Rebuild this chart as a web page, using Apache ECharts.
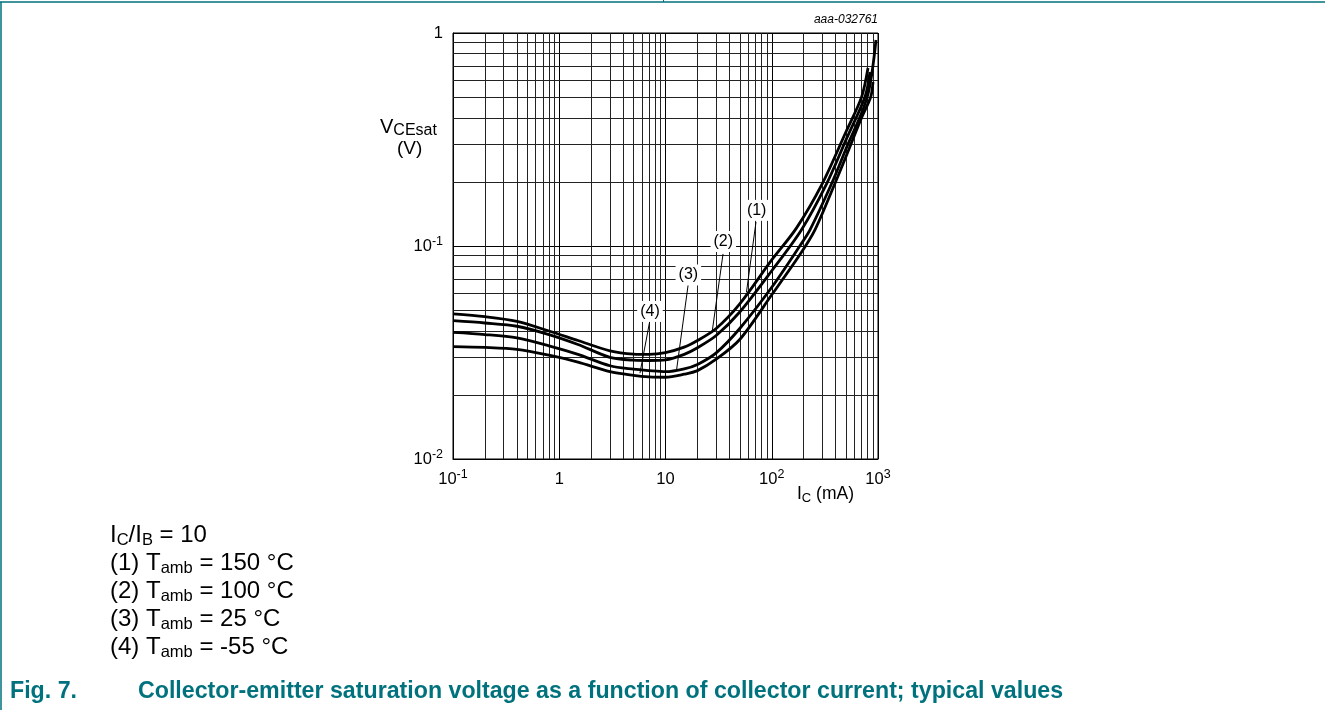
<!DOCTYPE html>
<html><head><meta charset="utf-8">
<script src="https://cdn.jsdelivr.net/npm/echarts@6/dist/echarts.min.js"></script>
<style>html,body{margin:0;padding:0;background:#fff;}#c{width:1325px;height:710px;}</style>
</head><body><div id="c"></div>
<script>
const FONT = '"Liberation Sans", Arial, Helvetica, sans-serif';
const TEAL = '#00727d';

// Curve data: collector current IC (mA) and VCEsat (V)
const IC1 = [0.1, 0.2, 0.4, 0.8, 1.5, 3, 5, 7, 10, 15, 20, 30, 50, 100, 170, 300, 500, 700, 805];
const V1  = [0.048, 0.0466, 0.0443, 0.0399, 0.036, 0.0322, 0.0311, 0.031, 0.0316, 0.0335, 0.036, 0.041, 0.0535, 0.086, 0.121, 0.197, 0.344, 0.50, 0.685];
const IC2 = [0.1, 0.2, 0.4, 0.8, 1.5, 3, 5, 7, 10, 15, 20, 30, 50, 100, 190, 330, 500, 755, 840];
const V2  = [0.0446, 0.0435, 0.042, 0.0384, 0.0345, 0.030, 0.0291, 0.029, 0.0292, 0.031, 0.0333, 0.038, 0.049, 0.0765, 0.119, 0.197, 0.315, 0.502, 0.656];
const IC3 = [0.1, 0.2, 0.4, 0.8, 1.5, 3, 5, 7, 10, 15, 20, 30, 50, 100, 185, 229, 367, 500, 793, 957];
const V3  = [0.0393, 0.0384, 0.037, 0.034, 0.031, 0.0274, 0.0264, 0.026, 0.0257, 0.0265, 0.0278, 0.0315, 0.041, 0.064, 0.1006, 0.119, 0.197, 0.286, 0.502, 0.927];
const IC4 = [0.1, 0.2, 0.4, 0.8, 1.5, 3, 5, 7, 10, 15, 20, 30, 50, 100, 185, 255, 394, 500, 700, 855, 897];
const V4  = [0.0337, 0.0334, 0.0327, 0.0307, 0.0285, 0.0257, 0.0247, 0.0243, 0.0242, 0.025, 0.026, 0.0294, 0.0364, 0.059, 0.0914, 0.119, 0.197, 0.263, 0.40, 0.502, 0.589];

// Curve annotation labels and leader lines (data coordinates)
const curveLabels = ['(1)', '(2)', '(3)', '(4)'];
const labelIC = [72.1, 35.0, 16.4, 7.14];
const labelV  = [0.147, 0.105, 0.0731, 0.0493];
const leadFromIC = [71.1, 34.8, 16.4, 7.14];
const leadFromV  = [0.1297, 0.0918, 0.0667, 0.0449];
const leadToIC   = [57.8, 27.4, 12.7, 5.75];
const leadToV    = [0.0607, 0.0391, 0.0261, 0.0253];

// Axis tick positions
const xMin = 0.1, xMax = 1000, yMin = 0.01, yMax = 1;
const xDecades = [0.1, 1, 10, 100];
const yDecades = [0.01, 0.1];
const minorMult = [2, 3, 4, 5, 6, 7, 8, 9];

const legendLines = [
  '{m|I}{s|C}{m|/I}{s|B}{m| = 10}',
  '{m|(1) T}{s|amb}{m| = 150 °C}',
  '{m|(2) T}{s|amb}{m| = 100 °C}',
  '{m|(3) T}{s|amb}{m| = 25 °C}',
  '{m|(4) T}{s|amb}{m| = -55 °C}'
];

function pairs(xs, ys) { return xs.map((x, i) => [x, ys[i]]); }

const minorX = [];
xDecades.forEach(d => minorMult.forEach(m => minorX.push({ xAxis: +(d * m).toPrecision(3) })));
const minorY = [];
yDecades.forEach(d => minorMult.forEach(m => minorY.push({ yAxis: +(d * m).toPrecision(3) })));

function powLabel(v) {
  const e = Math.round(Math.log10(v));
  if (e === 0) return '{b|1}';
  if (e === 1) return '{b|10}';
  return '{b|10}{s|' + e + '}';
}
const tickRich = {
  b: { fontSize: 16.5, lineHeight: 22, fontFamily: FONT, fontWeight: 'normal', color: '#000' },
  s: { fontSize: 12.5, lineHeight: 10, verticalAlign: 'top', fontFamily: FONT, fontWeight: 'normal', color: '#000' }
};
function tok(size, lh, extra) {
  return Object.assign({ fontSize: size, lineHeight: lh, fontFamily: FONT, fontWeight: 'normal', color: '#000' }, extra || {});
}

const curves = [pairs(IC1, V1), pairs(IC2, V2), pairs(IC3, V3), pairs(IC4, V4)];

const series = [];
series.push({
  type: 'line', data: [[1, 0.1]], showSymbol: false, silent: true,
  lineStyle: { width: 0, opacity: 0 }, z: 1,
  markLine: {
    silent: true, symbol: ['none', 'none'], animation: false,
    label: { show: false },
    lineStyle: { color: '#222', width: 1, type: 'solid' },
    emphasis: { disabled: true },
    data: minorX.concat(minorY)
  }
});
curves.forEach((c) => {
  series.push({
    type: 'line', data: c, smooth: 0.3, showSymbol: false, silent: true,
    lineStyle: { color: '#000', width: 2.8 }, z: 5
  });
});
series.push({
  type: 'line', data: [[1, 0.1]], showSymbol: false, silent: true,
  lineStyle: { width: 0, opacity: 0 }, z: 6,
  markLine: {
    silent: true, symbol: ['none', 'none'], animation: false,
    label: { show: false },
    lineStyle: { color: '#000', width: 1, type: 'solid' },
    data: curveLabels.map((_, i) => [
      { coord: [leadFromIC[i], leadFromV[i]] },
      { coord: [leadToIC[i], leadToV[i]] }
    ])
  }
});
series.push({
  type: 'scatter', silent: true, z: 7, symbol: 'rect', symbolSize: [1, 1],
  itemStyle: { color: '#fff', opacity: 1 },
  data: curveLabels.map((n, i) => ({ name: n, value: [labelIC[i], labelV[i]] })),
  labelLayout: { hideOverlap: false },
  label: {
    show: true, position: 'inside', formatter: p => p.name,
    fontSize: 16, fontFamily: FONT, fontWeight: 'normal', color: '#000', opacity: 1,
    backgroundColor: '#fff', padding: [3, 3, 2, 3]
  }
});

const chart = echarts.init(document.getElementById('c'), null, { renderer: 'canvas' });
chart.setOption({
  animation: false,
  backgroundColor: '#fff',
  grid: { left: 453, top: 33, width: 425, height: 426, show: true, borderColor: '#000', borderWidth: 1, containLabel: false },
  xAxis: {
    type: 'log', logBase: 10, min: xMin, max: xMax,
    axisLine: { show: true, lineStyle: { color: '#000', width: 1 } },
    axisTick: { show: false },
    splitLine: { show: true, lineStyle: { color: '#000', width: 1 } },
    axisLabel: { margin: 9, formatter: powLabel, rich: tickRich, showMinLabel: true, showMaxLabel: true }
  },
  yAxis: {
    type: 'log', logBase: 10, min: yMin, max: yMax,
    axisLine: { show: true, lineStyle: { color: '#000', width: 1 } },
    axisTick: { show: false },
    splitLine: { show: true, lineStyle: { color: '#000', width: 1 } },
    axisLabel: { margin: 10, formatter: powLabel, rich: tickRich, showMinLabel: true, showMaxLabel: true }
  },
  title: [
    { text: 'aaa-032761', right: 447, top: 13, padding: 0,
      textStyle: { fontSize: 12, fontStyle: 'italic', fontWeight: 'normal', fontFamily: FONT, color: '#000', lineHeight: 14 } },
    { text: '{m|V}{s|CEsat}', left: 380, top: 115, padding: 0,
      textStyle: { fontWeight: 'normal', rich: {
        m: tok(20, 24),
        s: tok(16, 16, { verticalAlign: 'bottom' }) } } },
    { text: '(V)', left: 397, top: 138, padding: 0,
      textStyle: { fontSize: 19, lineHeight: 22, fontWeight: 'normal', fontFamily: FONT, color: '#000' } },
    { text: '{m|I}{s|C}{m| (mA)}', left: 797, top: 483, padding: 0,
      textStyle: { fontWeight: 'normal', rich: {
        m: tok(17.5, 22),
        s: tok(13, 13, { verticalAlign: 'bottom' }) } } },
    { text: legendLines.join('\n'), left: 110, top: 521, padding: 0,
      textStyle: { fontWeight: 'normal', rich: {
        m: tok(24, 28),
        s: tok(16.5, 13, { verticalAlign: 'bottom' }) } } },
    { text: '{a|Fig. 7.}{g|}{a|Collector-emitter saturation voltage as a function of collector current; typical values}',
      left: 10, top: 679, padding: 0,
      textStyle: { rich: {
        a: { fontSize: 23.2, lineHeight: 26, fontWeight: 'bold', fontFamily: FONT, color: TEAL },
        g: { width: 61, lineHeight: 26 } } } }
  ],
  graphic: [
    { type: 'line', shape: { x1: 0, y1: 2, x2: 1325, y2: 2 }, style: { stroke: TEAL, lineWidth: 1.5 }, silent: true },
    { type: 'line', shape: { x1: 1, y1: 2, x2: 1, y2: 710 }, style: { stroke: TEAL, lineWidth: 1.5 }, silent: true },
    { type: 'line', shape: { x1: 663.5, y1: 0, x2: 663.5, y2: 2 }, style: { stroke: TEAL, lineWidth: 1 }, silent: true }
  ],
  series: series
});
</script></body></html>
